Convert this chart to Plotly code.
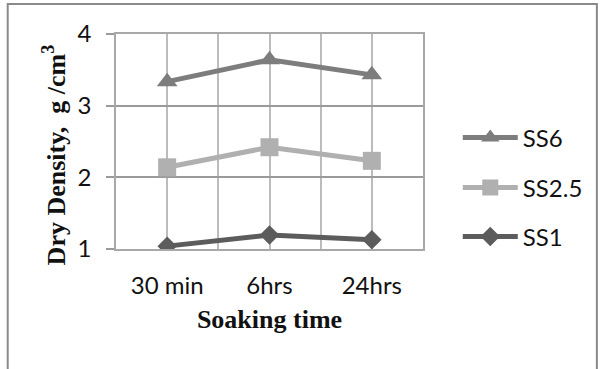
import plotly.graph_objects as go

categories = ["30 min", "6hrs", "24hrs"]
ss1 = [1.04, 1.195, 1.13]
ss25 = [2.14, 2.42, 2.23]
ss6 = [3.335, 3.64, 3.43]
y_ticks = [1, 2, 3, 4]

xs = list(range(len(categories)))
L, R, T, B = 116, 175, 34, 120
W, H = 600, 369
pw, ph = W - L - R, H - T - B

def px(x):
    return (x - L) / pw

def py(y):
    return (H - B - y) / ph

SANS = "Lato, Open Sans, sans-serif"
SERIF = "Liberation Serif, Times New Roman, serif"

series = [
    ("SS1", ss1, "#5c5c5c", "diamond", 15, "legend3", 237),
    ("SS2.5", ss25, "#b0b0b0", "square", 18, "legend2", 188),
    ("SS6", ss6, "#7d7d7d", "triangle-up", 18, "legend", 138),
]

fig = go.Figure()
layout_legends = {}
for name, vals, col, sym, sz, lg, ly in series:
    fig.add_trace(go.Scatter(
        x=xs, y=vals, name=name, mode="lines+markers",
        line=dict(color=col, width=5),
        marker=dict(symbol=sym, size=sz, color=col),
        legend=lg,
    ))
    layout_legends[lg] = dict(
        x=px(460), y=py(ly), xanchor="left", yanchor="middle",
        font=dict(family=SANS, size=24, color="#111"),
        bgcolor="rgba(0,0,0,0)", itemwidth=55,
    )

fig.update_layout(
    width=W, height=H,
    margin=dict(l=L, r=R, t=T, b=B),
    paper_bgcolor="white", plot_bgcolor="white",
    showlegend=True,
    **layout_legends,
    xaxis=dict(
        range=[-0.5, len(categories) - 0.5],
        tickmode="array", tickvals=xs, ticktext=categories,
        showgrid=True, gridcolor="#bcbcbc", gridwidth=1.5,
        minor=dict(tick0=-0.5, dtick=0.5, showgrid=True, gridcolor="#bcbcbc",
                   gridwidth=1.5, ticks=""),
        showline=True, linecolor="#a8a8a8", linewidth=1.5, mirror=True,
        ticks="", zeroline=False,
        ticklabelstandoff=14,
        tickfont=dict(family=SANS, size=24, color="#111"),
        title=dict(text="<b>Soaking time</b>", standoff=12,
                   font=dict(family=SERIF, size=26, color="#111")),
    ),
    yaxis=dict(
        range=[1, 4], tickmode="array", tickvals=y_ticks,
        showgrid=True, gridcolor="#9a9a9a", gridwidth=1.5,
        showline=True, linecolor="#a8a8a8", linewidth=1.5, mirror=True,
        ticks="outside", ticklen=8, tickcolor="#9a9a9a", tickwidth=1.5,
        zeroline=False, ticklabelstandoff=10,
        tickfont=dict(family=SANS, size=24, color="#111"),
    ),
    annotations=[dict(
        text="<b>Dry Density,  g /cm<sup>3</sup></b>", textangle=-90,
        xref="paper", yref="paper", x=px(54), y=py(155),
        xanchor="center", yanchor="middle", showarrow=False,
        font=dict(family=SERIF, size=26, color="#111"),
    )],
    shapes=[dict(
        type="rect", xref="paper", yref="paper",
        x0=px(7), x1=px(600), y0=py(375), y1=py(4),
        line=dict(color="#8a8a8a", width=2), fillcolor="rgba(0,0,0,0)", layer="below",
    )],
)

fig.write_html("out.html")
